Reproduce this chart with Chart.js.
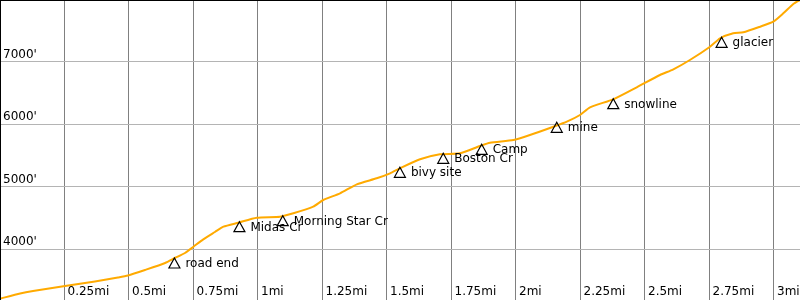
<!DOCTYPE html>
<html lang="en">
  <head>
    <meta charset="UTF-8" />
    <title>Elevation profile</title>
    <script src="https://cdn.jsdelivr.net/npm/chart.js@4.4.1/dist/chart.umd.min.js"></script>
    <style>
      html, body { margin: 0; padding: 0; background: #fff; }
      #wrap { width: 800px; height: 300px; }
    </style>
  </head>
  <body>
    <div id="wrap"><canvas id="profile" width="800" height="300"></canvas></div>
    <script>
      // track profile: distance (mi) and elevation (ft)
      const miles = [0, 0.078, 0.128, 0.252, 0.368, 0.457, 0.496, 0.562, 0.64, 0.678, 0.717, 0.75,
        0.788, 0.833, 0.866, 0.924, 0.995, 1.085, 1.137, 1.214, 1.253, 1.318, 1.383, 1.46, 1.512,
        1.55, 1.628, 1.705, 1.783, 1.86, 1.899, 1.99, 2.054, 2.145, 2.197, 2.248, 2.287, 2.377,
        2.468, 2.558, 2.61, 2.674, 2.752, 2.791, 2.842, 2.881, 2.946, 2.997, 3.036, 3.075, 3.101];
      const elevation = [3205, 3288, 3328, 3408, 3480, 3544, 3576, 3664, 3776, 3856, 3936, 4037,
        4155, 4272, 4357, 4421, 4501, 4517, 4571, 4677, 4784, 4891, 5035, 5131, 5211,
        5291, 5435, 5515, 5531, 5648, 5701, 5744, 5824, 5957, 6037, 6144, 6267, 6395,
        6587, 6784, 6875, 7024, 7237, 7371, 7451, 7467, 7557, 7637, 7771, 7920, 7984];

      // waypoints
      const wpNames = ["road end", "Midas Cr", "Morning Star Cr", "bivy site", "Boston Cr",
        "Camp", "mine", "snowline", "glacier"];
      const wpMiles = [0.676, 0.928, 1.096, 1.55, 1.718, 1.867, 2.158, 2.377, 2.797];
      const wpElev = [3856, 4437, 4533, 5307, 5531, 5675, 6027, 6405, 7387];

      // axis ticks
      const xTicks = [0.25, 0.5, 0.75, 1, 1.25, 1.5, 1.75, 2, 2.25, 2.5, 2.75, 3];
      const xTickLabels = ["0.25mi", "0.5mi", "0.75mi", "1mi", "1.25mi", "1.5mi", "1.75mi",
        "2mi", "2.25mi", "2.5mi", "2.75mi", "3mi"];
      const yTicks = [4000, 5000, 6000, 7000];
      const yTickLabels = ["4000'", "5000'", "6000'", "7000'"];

      const FONT = "12px 'DejaVu Sans', sans-serif";

      // draws tick labels inside the plot, the frame and the waypoint markers
      const overlay = {
        id: "overlay",
        afterDatasetsDraw(chart) {
          const { ctx, chartArea, scales } = chart;
          const xs = scales.x, ys = scales.y;
          ctx.save();
          ctx.font = FONT;
          ctx.fillStyle = "#000";
          ctx.textAlign = "left";

          ctx.textBaseline = "alphabetic";
          yTicks.forEach((v, i) => {
            ctx.fillText(yTickLabels[i], chartArea.left + 3, ys.getPixelForValue(v) - 4);
          });
          ctx.textBaseline = "middle";
          xTicks.forEach((v, i) => {
            ctx.fillText(xTickLabels[i], xs.getPixelForValue(v) + 3, chartArea.bottom - 8);
          });

          ctx.strokeStyle = "#000";
          ctx.lineWidth = 1.2;
          wpNames.forEach((name, i) => {
            const px = xs.getPixelForValue(wpMiles[i]);
            const py = ys.getPixelForValue(wpElev[i]);
            ctx.beginPath();
            ctx.moveTo(px, py);
            ctx.lineTo(px + 5.5, py + 10);
            ctx.lineTo(px - 5.5, py + 10);
            ctx.closePath();
            ctx.stroke();
            ctx.fillText(name, px + 11, py + 6);
          });

          ctx.lineWidth = 1;
          ctx.beginPath();
          ctx.moveTo(chartArea.left, chartArea.top + 0.5);
          ctx.lineTo(chartArea.right, chartArea.top + 0.5);
          ctx.moveTo(chartArea.left + 0.5, chartArea.top);
          ctx.lineTo(chartArea.left + 0.5, chartArea.bottom);
          ctx.stroke();
          ctx.restore();
        },
      };

      new Chart(document.getElementById("profile"), {
        type: "line",
        data: {
          datasets: [
            {
              data: miles.map((m, i) => ({ x: m, y: elevation[i] })),
              borderColor: "#ffaa00",
              borderWidth: 2,
              pointRadius: 0,
              tension: 0.2,
              fill: false,
            },
          ],
        },
        options: {
          responsive: false,
          animation: false,
          layout: { padding: 0 },
          plugins: { legend: { display: false }, tooltip: { enabled: false } },
          scales: {
            x: {
              type: "linear",
              min: 0,
              max: 3.1008,
              afterBuildTicks: (s) => { s.ticks = xTicks.map((v) => ({ value: v })); },
              ticks: { display: false },
              grid: { color: "#808080", lineWidth: 1, drawTicks: false },
              border: { display: false },
            },
            y: {
              type: "linear",
              min: 3184,
              max: 7984,
              afterBuildTicks: (s) => { s.ticks = yTicks.map((v) => ({ value: v })); },
              ticks: { display: false },
              grid: { color: "#b4b4b4", lineWidth: 1, drawTicks: false },
              border: { display: false },
            },
          },
        },
        plugins: [overlay],
      });
    </script>
  </body>
</html>
